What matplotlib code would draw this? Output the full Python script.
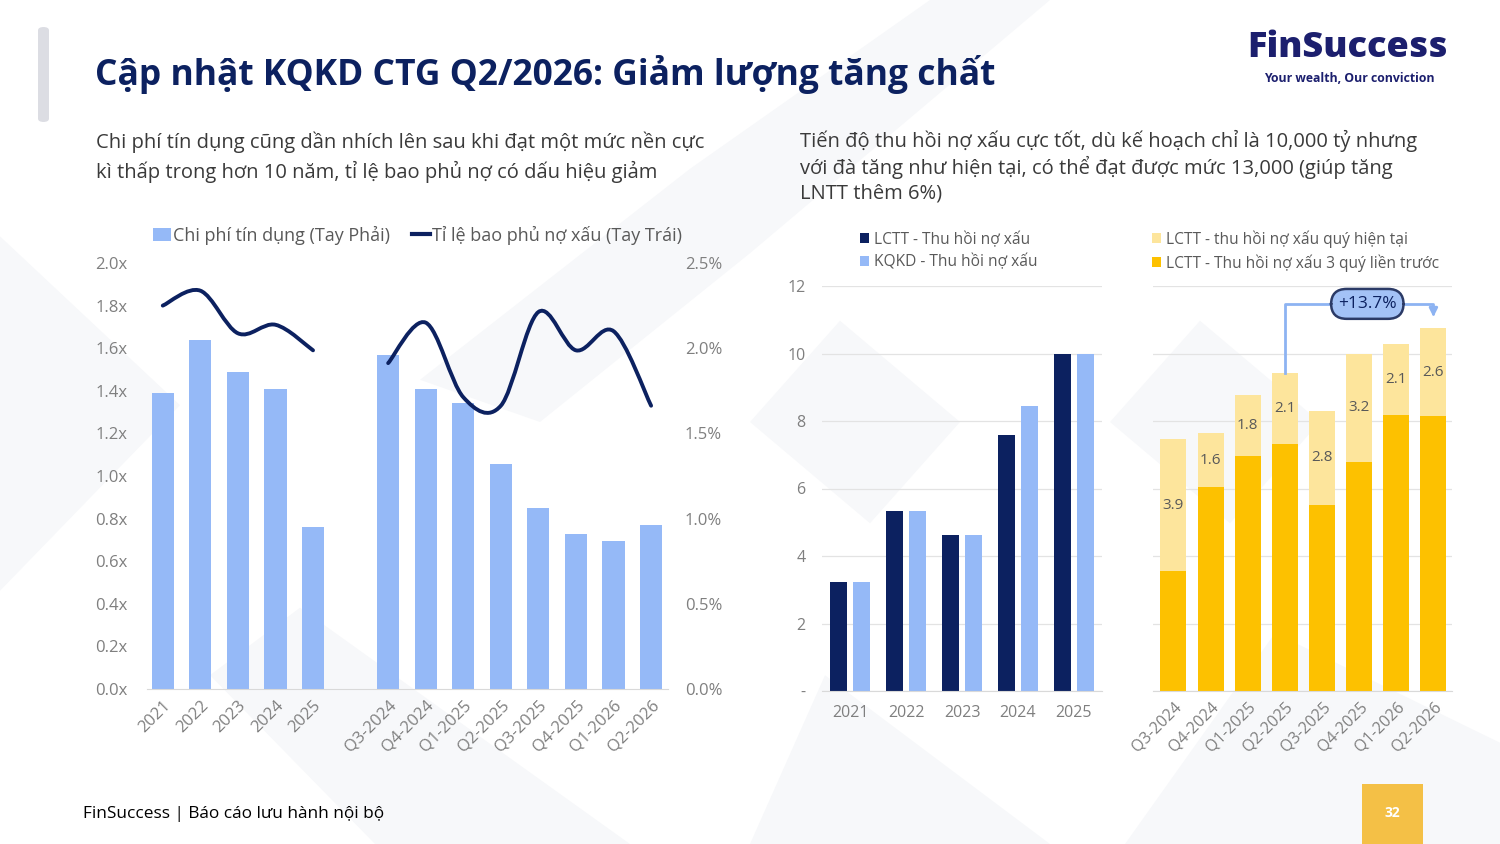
import numpy as np
import matplotlib.pyplot as plt
from matplotlib.path import Path
from matplotlib.patches import PathPatch, Patch, Polygon, FancyBboxPatch, Rectangle
from matplotlib.lines import Line2D

plt.rcParams['font.family'] = ['Open Sans', 'DejaVu Sans']

#----------------data----------------#
years = ['2021', '2022', '2023', '2024', '2025']
quarters = ['Q3-2024', 'Q4-2024', 'Q1-2025', 'Q2-2025', 'Q3-2025', 'Q4-2025', 'Q1-2026', 'Q2-2026']

# left chart: credit cost (%) bars, NPL coverage (x) line
cost_years = [1.74, 2.05, 1.86, 1.76, 0.95]
cost_quarters = [1.96, 1.76, 1.68, 1.32, 1.06, 0.91, 0.87, 0.96]
cov_years = [1.80, 1.87, 1.67, 1.71, 1.59]
cov_quarters = [1.53, 1.72, 1.37, 1.33, 1.77, 1.59, 1.68, 1.33]

# middle chart: bad debt recovery (nghìn tỷ)
lctt_years = [3.23, 5.33, 4.62, 7.59, 10.0]
kqkd_years = [3.23, 5.33, 4.62, 8.44, 10.0]

# right chart: rolling 4 quarters recovery
prev3_q = [3.56, 6.04, 6.96, 7.32, 5.51, 6.79, 8.18, 8.15]
cur_q = [3.9, 1.6, 1.8, 2.1, 2.8, 3.2, 2.1, 2.6]
growth_label = '+13.7%'

NAVY = '#0c2160'
LBLUE = '#95b9f7'
YEL = '#fdc100'
LYEL = '#fde59c'
GREY = '#7f7f7f'


def fx(x):
    return x / 1500


def fy(y):
    return 1 - y / 844


def smooth_path(xs, ys):
    # excel-like smoothed line drawn as bezier curves through the points
    pts = list(zip(xs, ys))
    verts = [pts[0]]
    codes = [Path.MOVETO]
    for i in range(len(pts) - 1):
        p0 = pts[i - 1] if i > 0 else pts[i]
        p1 = pts[i]
        p2 = pts[i + 1]
        p3 = pts[i + 2] if i + 2 < len(pts) else pts[i + 1]
        c1 = (p1[0] + (p2[0] - p0[0]) / 6, p1[1] + (p2[1] - p0[1]) / 6)
        c2 = (p2[0] - (p3[0] - p1[0]) / 6, p2[1] - (p3[1] - p1[1]) / 6)
        verts += [c1, c2, p2]
        codes += [Path.CURVE4] * 3
    return Path(verts, codes)


fig = plt.figure(figsize=(15, 8.44), dpi=100)
fig.patch.set_facecolor('white')

# faint background chevrons
bg = '#f7f8fa'
for poly in [
    [(0.0, 0.30), (0.12, 0.52), (0.0, 0.72)],
    [(0.28, 0.55), (0.46, 0.80), (0.62, 1.0), (0.70, 1.0), (0.50, 0.70), (0.36, 0.50)],
    [(0.50, 0.50), (0.56, 0.62), (0.64, 0.50), (0.58, 0.38)],
    [(0.74, 0.50), (0.80, 0.62), (0.88, 0.50), (0.82, 0.38)],
    [(0.25, 0.0), (0.42, 0.0), (0.20, 0.28), (0.14, 0.20)],
    [(0.50, 0.0), (0.70, 0.0), (0.55, 0.20)],
    [(0.75, 0.0), (1.0, 0.0), (1.0, 0.12), (0.85, 0.25)],
]:
    fig.patches.append(Polygon(poly, closed=True, transform=fig.transFigure,
                               facecolor=bg, edgecolor='none', zorder=-10))

# header
fig.patches.append(FancyBboxPatch((fx(38), fy(122)), fx(11), 95 / 844,
                                  boxstyle='round,pad=0,rounding_size=0.004',
                                  transform=fig.transFigure, facecolor='#dcdde3',
                                  edgecolor='none', zorder=1))
fig.text(fx(95), fy(75), 'Cập nhật KQKD CTG Q2/2026: Giảm lượng tăng chất',
         fontsize=25.5, fontweight='bold', color=NAVY, va='center', ha='left')
fig.text(fx(1348), fy(48), 'FinSuccess', fontsize=26, fontweight='heavy',
         color='#1c1f6e', va='center', ha='center')
fig.text(fx(1349), fy(79), 'Your wealth, Our conviction', fontsize=8.8,
         fontweight='bold', color='#1c1f6e', va='center', ha='center')

sub_kw = dict(fontsize=14.5, color='#3a3a3a', va='center', ha='left')
fig.text(fx(96), fy(142), 'Chi phí tín dụng cũng dần nhích lên sau khi đạt một mức nền cực', **sub_kw)
fig.text(fx(96), fy(172), 'kì thấp trong hơn 10 năm, tỉ lệ bao phủ nợ có dấu hiệu giảm', **sub_kw)
fig.text(fx(800), fy(141), 'Tiến độ thu hồi nợ xấu cực tốt, dù kế hoạch chỉ là 10,000 tỷ nhưng', **sub_kw)
fig.text(fx(800), fy(167), 'với đà tăng như hiện tại, có thể đạt được mức 13,000 (giúp tăng', **sub_kw)
fig.text(fx(800), fy(194), 'LNTT thêm 6%)', **sub_kw)

# footer
fig.text(fx(83), fy(814), 'FinSuccess | Báo cáo lưu hành nội bộ', fontsize=12.4,
         color='black', va='center', ha='left')
fig.patches.append(Rectangle((fx(1362), 0), fx(61), 60 / 844, transform=fig.transFigure,
                             facecolor='#f4c046', edgecolor='none', zorder=1))
fig.text(fx(1392.5), fy(813), '32', fontsize=10, fontweight='bold', color='white',
         va='center', ha='center')

#----------------left chart----------------#
ax = fig.add_axes([fx(147), fy(689), fx(668 - 147), (689 - 263) / 844])
ax.set_facecolor('none')
x_years = np.arange(len(years))
x_quarters = np.arange(len(quarters)) + len(years) + 1
ax.bar(x_years, cost_years, width=0.59, color=LBLUE, zorder=2)
ax.bar(x_quarters, cost_quarters, width=0.59, color=LBLUE, zorder=2)
ax.set_ylim(0, 2.5)
ax.set_xlim(-0.42, x_quarters[-1] + 0.45)

axl = ax.twinx()
ax.yaxis.tick_right()
ax.set_yticks(np.arange(0, 2.51, 0.5))
ax.set_yticklabels([f'{v:.1f}%' for v in np.arange(0, 2.51, 0.5)])
ax.set_xticks(list(x_years) + list(x_quarters))
ax.set_xticklabels(years + quarters, rotation=45, ha='right', rotation_mode='anchor')
ax.tick_params(axis='both', length=0, labelsize=12, colors=GREY)
ax.tick_params(axis='y', pad=12)
ax.tick_params(axis='x', pad=6)
for s in ['top', 'left', 'right']:
    ax.spines[s].set_visible(False)
ax.spines['bottom'].set_color('#d9d9d9')

axl.set_ylim(0, 2.0)
axl.yaxis.tick_left()
axl.set_yticks(np.arange(0, 2.01, 0.2))
axl.set_yticklabels([f'{v:.1f}x' for v in np.arange(0, 2.01, 0.2)])
axl.tick_params(axis='y', length=0, labelsize=12, colors=GREY, pad=14)
for s in axl.spines.values():
    s.set_visible(False)
axl.add_patch(PathPatch(smooth_path(x_years, cov_years), facecolor='none',
                        edgecolor=NAVY, lw=2.8, capstyle='round', zorder=3))
axl.add_patch(PathPatch(smooth_path(x_quarters, cov_quarters), facecolor='none',
                        edgecolor=NAVY, lw=2.8, capstyle='round', zorder=3))

leg1 = [Patch(facecolor=LBLUE, label='Chi phí tín dụng (Tay Phải)'),
        Line2D([0], [0], color=NAVY, lw=3, label='Tỉ lệ bao phủ nợ xấu (Tay Trái)')]
fig.legend(handles=leg1, loc='center left', bbox_to_anchor=(fx(137), fy(235)), ncol=2,
           frameon=False, fontsize=13, labelcolor='#595959', handlelength=1.0,
           handleheight=0.7, handletextpad=0.1, columnspacing=1.2)

#----------------middle chart----------------#
axm = fig.add_axes([fx(822), fy(691), fx(1102 - 822), (691 - 286) / 844])
axm.set_facecolor('none')
xm = np.arange(len(years))
axm.bar(xm - 0.2, lctt_years, width=0.3, color=NAVY, zorder=2, label='LCTT - Thu hồi nợ xấu')
axm.bar(xm + 0.2, kqkd_years, width=0.3, color=LBLUE, zorder=2, label='KQKD - Thu hồi nợ xấu')
axm.set_xlim(-0.5, 4.5)
axm.set_ylim(0, 12)
axm.set_yticks(range(0, 13, 2))
axm.set_yticklabels(['-'] + [str(v) for v in range(2, 13, 2)])
axm.set_xticks(xm)
axm.set_xticklabels(years)
axm.grid(axis='y', color='#e3e3e3', lw=0.9, zorder=0)
axm.tick_params(axis='both', length=0, labelsize=11.5, colors=GREY)
axm.tick_params(axis='y', pad=12)
axm.tick_params(axis='x', pad=10)
for s in ['top', 'left', 'right']:
    axm.spines[s].set_visible(False)
axm.spines['bottom'].set_color('#d9d9d9')
axm.legend(loc='center left', bbox_to_anchor=(fx(846), fy(251)),
           bbox_transform=fig.transFigure, frameon=False, fontsize=11.2,
           labelcolor='#595959', handlelength=0.6, handleheight=0.6,
           handletextpad=0.3, labelspacing=0.4)

#----------------right chart----------------#
axr = fig.add_axes([fx(1153), fy(691), fx(1452 - 1153), (691 - 286) / 844])
axr.set_facecolor('none')
xr = np.arange(len(quarters))
axr.bar(xr, prev3_q, width=0.7, color=YEL, zorder=2,
        label='LCTT - Thu hồi nợ xấu 3 quý liền trước')
cur_bars = axr.bar(xr, cur_q, bottom=prev3_q, width=0.7, color=LYEL, zorder=2,
                   label='LCTT - thu hồi nợ xấu quý hiện tại')
axr.bar_label(cur_bars, labels=[f'{v:.1f}' for v in cur_q], label_type='center',
              fontsize=11, color='#595959')
axr.set_xlim(-0.55, 7.5)
axr.set_ylim(0, 12)
axr.set_yticks(range(0, 13, 2))
axr.set_yticklabels([])
axr.set_xticks(xr)
axr.set_xticklabels(quarters, rotation=45, ha='right', rotation_mode='anchor')
axr.grid(axis='y', color='#e3e3e3', lw=0.9, zorder=0)
axr.tick_params(axis='both', length=0, labelsize=11.5, colors=GREY)
axr.tick_params(axis='x', pad=6)
for s in ['top', 'left', 'right']:
    axr.spines[s].set_visible(False)
axr.spines['bottom'].set_color('#d9d9d9')
h, l = axr.get_legend_handles_labels()
axr.legend(h[::-1], l[::-1], loc='center left', bbox_to_anchor=(fx(1138), fy(251)),
           bbox_transform=fig.transFigure, frameon=False, fontsize=11.2,
           labelcolor='#595959', handlelength=0.6, handleheight=0.6,
           handletextpad=0.3, labelspacing=0.4)

# growth annotation: Q2-2025 -> Q2-2026
tot = [a + b for a, b in zip(prev3_q, cur_q)]
y_top = 11.47
axr.plot([3, 3, 4.25], [tot[3], y_top, y_top], color='#8db3f2', lw=2, zorder=3,
         clip_on=False)
axr.annotate('', xy=(7, 11.0), xytext=(6.1, y_top),
             arrowprops=dict(arrowstyle='-|>', color='#8db3f2', lw=2,
                             connectionstyle='angle,angleA=0,angleB=90,rad=0',
                             mutation_scale=12),
             annotation_clip=False, zorder=3)
axr.text(5.22, y_top, growth_label, fontsize=12.5, color=NAVY, ha='center', va='center',
         zorder=4, bbox=dict(boxstyle='round,pad=0.4,rounding_size=0.9',
                             facecolor='#a3c2f6', edgecolor='#2b3a66', lw=1.8))

fig.savefig('out.png', dpi=100)
